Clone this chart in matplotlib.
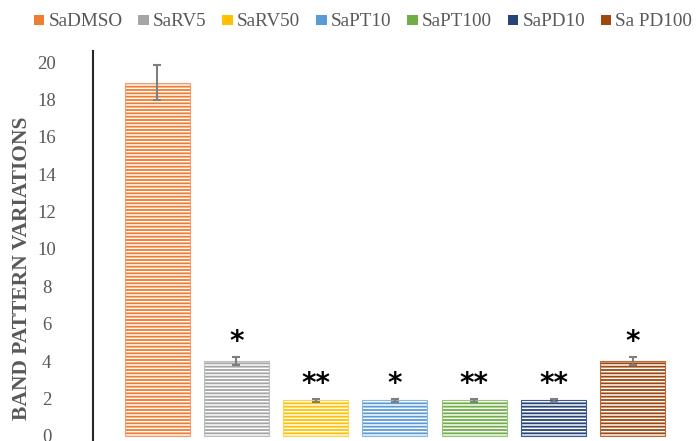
import matplotlib
matplotlib.use("Agg")
import matplotlib.pyplot as plt
from matplotlib.patches import Patch

categories = ["SaDMSO", "SaRV5", "SaRV50", "SaPT10", "SaPT100", "SaPD10", "Sa PD100"]
values = [18.9, 4.0, 1.9, 1.9, 1.9, 1.9, 4.0]
errors = [0.95, 0.2, 0.1, 0.1, 0.1, 0.1, 0.2]
signif = ["", "*", "**", "*", "**", "**", "*"]
colors = ["#ED7D31", "#A5A5A5", "#FFC000", "#5B9BD5", "#70AD47", "#264478", "#9E480E"]
edge_colors = ["#F0A070", "#BDBDBD", "#FFD24D", "#8AB8E3", "#96C47A", "#3A5A94", "#B86A3A"]
yticks = [0, 2, 4, 6, 8, 10, 12, 14, 16, 18, 20]

plt.rcParams["font.family"] = ["Liberation Serif", "DejaVu Serif"]
plt.rcParams["hatch.linewidth"] = 1.1

fig = plt.figure(figsize=(6.98, 4.41), dpi=100)
ax = fig.add_axes([93 / 698, 0, 600 / 698, (441 - 51) / 441])

x = list(range(len(categories)))
width = 0.82
ax.bar(x, values, width=width, color=colors, edgecolor="white", linewidth=0, hatch="-----", zorder=2)
ax.bar(x, values, width=width, fill=False, edgecolor=edge_colors, linewidth=0.8, zorder=3)
ax.errorbar(x, values, yerr=errors, fmt="none", ecolor="#7F7F7F", elinewidth=1.5, capsize=3, capthick=1.5, zorder=4)

for xi, v, e, s in zip(x, values, errors, signif):
    if s:
        ax.text(xi, v + e + 0.05, s, ha="center", va="bottom", fontsize=20, fontweight="bold",
                family=["DejaVu Sans"], color="black")

ax.set_ylim(-0.27, 20.59)
ax.set_xlim(-0.81, 6.76)
ax.set_yticks(yticks)
ax.tick_params(axis="y", length=0, labelsize=13.5, labelcolor="#595959", pad=33.5)
for lab in ax.get_yticklabels():
    lab.set_horizontalalignment("center")
ax.set_xticks([])
for side in ["top", "right", "bottom"]:
    ax.spines[side].set_visible(False)
ax.spines["left"].set_color("#262626")
ax.spines["left"].set_linewidth(1.5)

ax.set_ylabel("BAND PATTERN VARIATIONS", fontsize=15.5, fontweight="bold", color="#595959")
ax.yaxis.set_label_coords(-0.119, 0.444)
ax.yaxis.label.set_verticalalignment("center")

handles = [Patch(facecolor=c, edgecolor="none") for c in colors]
fig.legend(handles, categories, loc="center", bbox_to_anchor=(363 / 698, 1 - 22 / 441), ncol=7,
           frameon=False, fontsize=13.8, labelcolor="#595959", handlelength=0.55, handleheight=0.45,
           handletextpad=0.22, columnspacing=0.82, borderpad=0, borderaxespad=0)

fig.savefig("out.png", dpi=100)
